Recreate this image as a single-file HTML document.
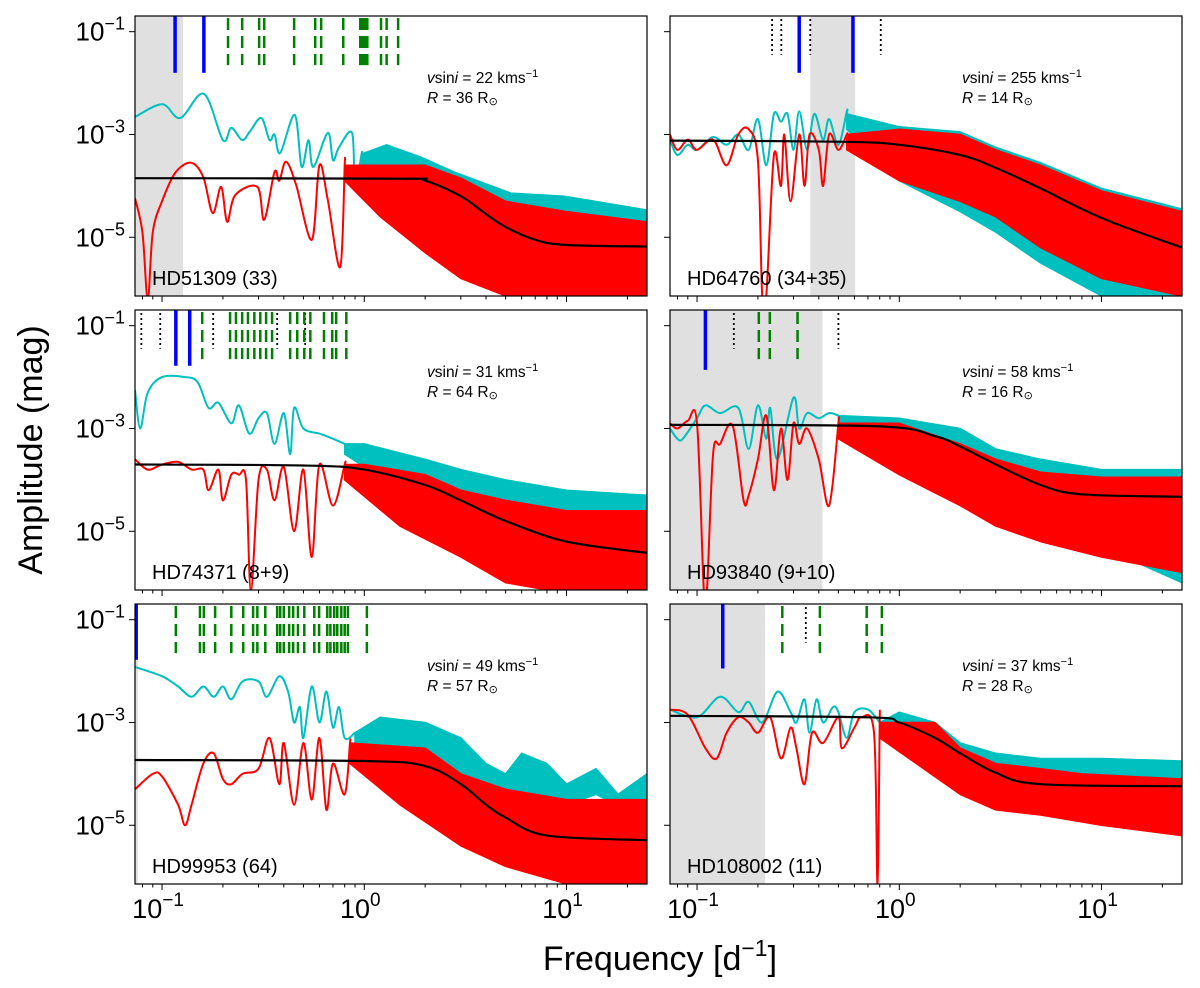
<!DOCTYPE html>
<html><head><meta charset="utf-8"><style>
html,body{margin:0;padding:0;background:#fff;}
svg{display:block;font-family:"Liberation Sans","DejaVu Sans",sans-serif;}
</style></head><body>
<svg id="chart" width="1200" height="988" viewBox="0 0 1200 988" xmlns="http://www.w3.org/2000/svg"></svg>
<script>
// ---------- data (frequency in d^-1, log10 amplitude in mag) ----------
const starNames = ["HD51309 (33)","HD64760 (34+35)","HD74371 (8+9)","HD93840 (9+10)","HD99953 (64)","HD108002 (11)"];
const vsiniValues = [22,255,31,58,49,37];
const radiusValues = [36,14,64,16,57,28];
const greySpans = [[0.0735,0.127],[0.363,0.605],null,[0.0735,0.417],[0.0735,0.076],[0.0735,0.217]];
const blueFreqs = [[0.116,0.161],[0.32,0.59],[0.117,0.137],[0.11],[0.0745],[0.134]];
const greenFreqs = [
 [0.212,0.249,0.302,0.32,0.45,0.572,0.612,0.787,0.955,0.975,0.995,1.015,1.035,1.21,1.29,1.47],
 [],
 [0.158,0.217,0.232,0.249,0.266,0.286,0.306,0.327,0.35,0.43,0.466,0.505,0.541,0.632,0.694,0.726,0.815],
 [0.202,0.229,0.314],
 [0.117,0.154,0.161,0.183,0.22,0.252,0.282,0.296,0.324,0.371,0.384,0.4,0.425,0.445,0.47,0.505,0.566,0.598,0.656,0.68,0.71,0.735,0.77,0.8,0.83,1.03],
 [0.264,0.405,0.69,0.82]];
const dottedFreqs = [[],[0.235,0.261,0.363,0.81],[0.079,0.098,0.179,0.371,0.51],[0.152,0.5],[],[0.345]];
const blueTops = [-1.8,-1.8,-1.78,-1.86,-1.78,-1.95];

const cyanLow = [
 [[0.0735,-2.66],[0.1,-2.41],[0.123,-2.68],[0.161,-2.21],[0.2,-3.11],[0.22,-2.87],[0.249,-3.11],[0.273,-2.93],[0.31,-2.68],[0.34,-3.11],[0.36,-3.0],[0.384,-3.36],[0.453,-2.62],[0.49,-3.63],[0.53,-3.11],[0.56,-3.63],[0.66,-2.97],[0.7,-3.5],[0.75,-3.25],[0.87,-2.97],[0.9,-3.96],[0.97,-3.38]],
 [[0.0735,-3.1],[0.08,-3.4],[0.09,-3.2],[0.1,-3.3],[0.12,-3.05],[0.14,-3.2],[0.16,-3.0],[0.18,-3.3],[0.2,-2.7],[0.22,-3.6],[0.24,-2.6],[0.26,-2.75],[0.28,-2.6],[0.3,-3.3],[0.32,-2.55],[0.35,-3.3],[0.38,-2.6],[0.42,-3.1],[0.45,-2.7],[0.5,-3.2],[0.55,-2.55]],
 [[0.0735,-2.25],[0.078,-3.0],[0.085,-2.3],[0.1,-2.0],[0.13,-2.0],[0.15,-2.1],[0.17,-2.6],[0.19,-2.5],[0.22,-2.9],[0.24,-2.55],[0.27,-3.1],[0.3,-2.8],[0.33,-2.7],[0.36,-3.3],[0.4,-2.7],[0.43,-3.5],[0.45,-2.6],[0.5,-3.0],[0.6,-3.1],[0.7,-3.2],[0.8,-3.3]],
 [[0.0735,-3.0],[0.08,-3.2],[0.085,-3.2],[0.1,-2.8],[0.11,-2.55],[0.13,-2.7],[0.16,-2.6],[0.18,-3.4],[0.2,-2.55],[0.22,-3.2],[0.23,-2.6],[0.25,-3.6],[0.3,-2.4],[0.32,-3.0],[0.35,-2.7],[0.4,-2.8],[0.45,-2.7],[0.5,-2.75]],
 [[0.0735,-1.92],[0.1,-2.1],[0.12,-2.3],[0.14,-2.5],[0.16,-2.3],[0.18,-2.5],[0.2,-2.3],[0.22,-2.55],[0.25,-2.2],[0.3,-2.2],[0.33,-2.5],[0.38,-2.1],[0.42,-2.4],[0.45,-3.0],[0.48,-2.7],[0.5,-3.3],[0.55,-2.3],[0.6,-3.0],[0.65,-2.4],[0.7,-3.1],[0.75,-2.7],[0.8,-3.3],[0.9,-3.2]],
 [[0.0735,-2.75],[0.1,-2.9],[0.13,-2.5],[0.16,-2.8],[0.18,-2.6],[0.21,-3.0],[0.25,-2.4],[0.29,-2.8],[0.31,-3.0],[0.34,-2.55],[0.36,-3.2],[0.39,-2.55],[0.42,-3.0],[0.47,-2.7],[0.5,-2.8],[0.55,-3.3],[0.6,-2.8],[0.7,-2.75],[0.8,-3.0]]];
const cyanUpper = [
 [[0.97,-3.38],[1.29,-3.2],[1.9,-3.44],[2.86,-3.75],[5.3,-4.14],[9.8,-4.2],[25,-4.47]],
 [[0.55,-2.6],[1,-2.85],[2,-2.95],[3,-3.25],[5,-3.55],[10,-4.05],[25,-4.45]],
 [[0.8,-3.3],[1,-3.3],[2,-3.6],[3,-3.8],[5,-4.0],[10,-4.2],[25,-4.3]],
 [[0.5,-2.75],[1,-2.8],[2,-3.0],[3,-3.4],[5,-3.6],[10,-3.8],[25,-3.8]],
 [[0.9,-3.2],[1.2,-2.9],[2,-3.0],[3,-3.3],[4,-3.8],[5,-4.0],[6,-3.6],[8,-3.8],[10,-4.2],[14,-3.9],[18,-4.4],[25,-4.0]],
 [[0.8,-3.0],[1,-2.8],[1.5,-3.0],[2,-3.4],[3,-3.6],[5,-3.7],[10,-3.7],[25,-3.75]]];
const cyanLower = [
 [[0.97,-3.6],[1.5,-4.3],[2,-5.0],[3,-5.5],[5,-6.0],[10,-6.14],[25,-6.14]],
 [[0.55,-2.9],[1,-3.9],[2,-4.5],[3,-4.9],[5,-5.5],[10,-6.14],[25,-6.14]],
 [[0.8,-3.5],[2,-4.5],[5,-4.7],[25,-4.7]],
 [[0.5,-3.0],[1,-3.7],[2,-4.2],[3,-4.5],[5,-5.0],[10,-5.3],[25,-6.0]],
 [[0.9,-3.4],[2,-3.8],[3,-4.3],[5,-4.5],[7,-4.4],[10,-4.6],[14,-4.4],[20,-4.7],[25,-4.9]],
 [[0.8,-3.2],[2,-4.3],[3,-4.5],[5,-4.6],[10,-4.8],[25,-5.0]]];
const redLow = [
 [[0.0735,-4.24],[0.08,-4.9],[0.085,-6.2],[0.09,-4.9],[0.1,-4.3],[0.116,-3.75],[0.139,-3.55],[0.16,-3.83],[0.178,-4.53],[0.196,-4.02],[0.21,-4.7],[0.23,-4.18],[0.296,-4.02],[0.32,-4.66],[0.36,-3.73],[0.38,-3.9],[0.41,-3.53],[0.46,-3.98],[0.55,-5.05],[0.6,-3.6],[0.66,-4.27],[0.76,-5.58],[0.8,-3.6]],
 [[0.0735,-3.0],[0.08,-3.3],[0.09,-3.1],[0.1,-3.3],[0.12,-3.1],[0.14,-3.6],[0.16,-3.0],[0.18,-2.9],[0.2,-3.5],[0.21,-6.14],[0.22,-6.14],[0.24,-3.4],[0.26,-4.0],[0.27,-3.0],[0.29,-4.3],[0.32,-3.0],[0.34,-4.0],[0.36,-3.0],[0.4,-3.3],[0.42,-4.0],[0.45,-3.0],[0.5,-3.3],[0.55,-3.0]],
 [[0.0735,-3.6],[0.085,-3.8],[0.1,-3.7],[0.12,-3.65],[0.14,-3.8],[0.16,-3.8],[0.17,-4.2],[0.19,-3.8],[0.2,-4.4],[0.22,-3.9],[0.24,-3.9],[0.26,-4.0],[0.275,-6.14],[0.3,-4.0],[0.33,-3.8],[0.36,-4.4],[0.4,-3.75],[0.45,-5.0],[0.5,-3.8],[0.55,-5.5],[0.6,-3.7],[0.7,-4.5],[0.8,-3.7]],
 [[0.0735,-2.9],[0.08,-3.0],[0.09,-2.85],[0.1,-2.9],[0.108,-6.14],[0.112,-6.14],[0.12,-3.5],[0.13,-3.3],[0.15,-2.95],[0.17,-4.4],[0.18,-4.3],[0.2,-3.6],[0.22,-2.75],[0.24,-4.2],[0.26,-3.0],[0.28,-4.0],[0.3,-2.9],[0.32,-3.3],[0.35,-3.0],[0.4,-3.6],[0.45,-4.5],[0.5,-2.9]],
 [[0.0735,-4.3],[0.09,-4.0],[0.1,-4.05],[0.12,-4.6],[0.13,-5.0],[0.14,-4.6],[0.16,-3.8],[0.18,-3.6],[0.2,-4.1],[0.22,-4.2],[0.25,-4.0],[0.3,-3.9],[0.34,-3.3],[0.38,-4.2],[0.4,-3.4],[0.45,-4.6],[0.5,-3.4],[0.55,-4.5],[0.6,-3.3],[0.65,-4.7],[0.7,-3.8],[0.8,-4.4],[0.85,-3.4]],
 [[0.0735,-2.75],[0.09,-2.85],[0.11,-3.5],[0.125,-3.7],[0.14,-3.2],[0.16,-2.9],[0.18,-3.0],[0.2,-3.2],[0.23,-2.9],[0.26,-3.7],[0.29,-3.1],[0.31,-3.5],[0.34,-4.2],[0.37,-3.2],[0.42,-3.4],[0.5,-2.9],[0.52,-3.5],[0.6,-3.1],[0.65,-2.9],[0.75,-3.2],[0.78,-6.14],[0.8,-3.0]]];
const redUpper = [
 [[0.8,-3.6],[1.3,-3.6],[2,-3.6],[3,-3.85],[5,-4.3],[10,-4.5],[25,-4.7]],
 [[0.55,-3.0],[1,-2.9],[2,-3.0],[3,-3.3],[5,-3.6],[10,-4.1],[25,-4.5]],
 [[0.8,-3.7],[1,-3.7],[2,-3.9],[3,-4.2],[5,-4.4],[10,-4.6],[25,-4.6]],
 [[0.5,-2.9],[1,-2.9],[2,-3.3],[3,-3.6],[5,-3.85],[10,-3.95],[25,-3.95]],
 [[0.85,-3.4],[2,-3.5],[3,-4.0],[5,-4.3],[10,-4.5],[25,-4.5]],
 [[0.8,-3.0],[1.5,-3.0],[2,-3.5],[3,-3.8],[5,-3.9],[8,-4.0],[25,-4.1]]];
const redLower = [
 [[0.8,-3.9],[1.2,-4.6],[2,-5.3],[3,-5.8],[5,-6.14],[25,-6.14]],
 [[0.55,-3.3],[1,-3.9],[2,-4.3],[3,-4.6],[5,-5.2],[10,-5.8],[25,-6.14]],
 [[0.8,-4.0],[1.5,-4.9],[3,-5.5],[5,-6.0],[8,-6.14],[25,-6.14]],
 [[0.5,-3.2],[1,-3.9],[2,-4.5],[3,-4.9],[5,-5.2],[10,-5.5],[25,-5.8]],
 [[0.85,-3.8],[1.5,-4.6],[3,-5.4],[5,-5.8],[10,-6.14],[25,-6.14]],
 [[0.8,-3.3],[2,-4.4],[3,-4.7],[5,-4.8],[10,-5.0],[25,-5.2]]];
const fitPoints = [
 [[0.0735,-3.85],[1.5,-3.86],[2,-3.9],[3,-4.2],[4,-4.55],[5,-4.8],[7,-5.05],[10,-5.15],[25,-5.18]],
 [[0.0735,-3.12],[0.5,-3.14],[1,-3.2],[2,-3.4],[3,-3.65],[5,-4.05],[8,-4.45],[12,-4.75],[25,-5.2]],
 [[0.0735,-3.7],[0.5,-3.72],[1,-3.8],[2,-4.1],[3,-4.4],[5,-4.8],[10,-5.2],[25,-5.42]],
 [[0.0735,-2.93],[0.8,-2.96],[1.5,-3.15],[2,-3.35],[3,-3.7],[5,-4.1],[8,-4.28],[25,-4.33]],
 [[0.0735,-3.73],[1,-3.75],[2,-3.85],[3,-4.2],[4,-4.6],[5,-4.85],[8,-5.2],[25,-5.29]],
 [[0.0735,-2.87],[0.7,-2.9],[1,-3.0],[1.5,-3.3],[2,-3.6],[3,-3.98],[5,-4.2],[25,-4.24]]];
const yTickExps = [-1,-3,-5];
const xTickExps = [-1,0,1];

// ---------- layout ----------
const NS = "http://www.w3.org/2000/svg";
const svg = document.getElementById("chart");
const colX = [[135,647],[670,1182]];
const rowTop = [16,310,604];
const PH = 280;
const LMIN = Math.log10(0.0735), LMAX = Math.log10(25);
const YTOP = -0.695, PXDEC = 51.4;
function mk(tag, attrs, parent){const e=document.createElementNS(NS,tag);for(const k in attrs)e.setAttribute(k,attrs[k]);(parent||svg).appendChild(e);return e;}

starNames.forEach((name, i) => {
  const col = i % 2, row = Math.floor(i / 2);
  const x0 = colX[col][0], x1 = colX[col][1], top = rowTop[row], bot = top + PH;
  const fx = f => x0 + (Math.log10(f) - LMIN) / (LMAX - LMIN) * (x1 - x0);
  const ly = a => top + (YTOP - a) * PXDEC;
  const path = pts => pts.map((p, k) => (k ? "L" : "M") + fx(p[0]).toFixed(1) + "," + ly(p[1]).toFixed(1)).join("");
  const smooth = pts => {
    const P = pts.map(p => [fx(p[0]), ly(p[1])]);
    let d = "M" + P[0][0].toFixed(1) + "," + P[0][1].toFixed(1);
    for (let k = 0; k < P.length - 1; k++) {
      const a = P[Math.max(k - 1, 0)], b = P[k], c = P[k + 1], e = P[Math.min(k + 2, P.length - 1)];
      const c1 = [b[0] + (c[0] - a[0]) / 6, b[1] + (c[1] - a[1]) / 6];
      const c2 = [c[0] - (e[0] - b[0]) / 6, c[1] - (e[1] - b[1]) / 6];
      d += "C" + c1[0].toFixed(1) + "," + c1[1].toFixed(1) + " " + c2[0].toFixed(1) + "," + c2[1].toFixed(1) + " " + c[0].toFixed(1) + "," + c[1].toFixed(1);
    }
    return d;
  };
  const g = mk("g", {});
  
  
  const cp = mk("clipPath", {id: "clip" + i}, g);
  mk("rect", {x: x0, y: top, width: x1 - x0, height: PH}, cp);
  const inner = mk("g", {"clip-path": "url(#clip" + i + ")"}, g);
  if (greySpans[i]) {
    const s = mk("rect", {x: fx(greySpans[i][0]), y: top, width: fx(greySpans[i][1]) - fx(greySpans[i][0]), height: PH, fill: "#e0e0e0"}, inner);
    
    
  }
  dottedFreqs[i].forEach(f => {
    const l = mk("line", {x1: fx(f), x2: fx(f), y1: top + 3, y2: ly(-1.45), stroke: "#000", "stroke-width": 1.8, "stroke-dasharray": "2,3"}, inner);
    
    
  });
  greenFreqs[i].forEach(f => {
    const l = mk("line", {x1: fx(f), x2: fx(f), y1: top + 2, y2: ly(-1.65), stroke: "#008000", "stroke-width": 2.5, "stroke-dasharray": "12,6"}, inner);
    
    
  });
  blueFreqs[i].forEach(f => {
    const l = mk("line", {x1: fx(f), x2: fx(f), y1: top, y2: ly(blueTops[i]), stroke: "#0000ff", "stroke-width": 3.5}, inner);
    
    
  });
  const cb = mk("path", {d: path(cyanUpper[i]) + path(cyanLower[i].slice().reverse()).replace("M", "L") + "Z", fill: "#00bfbf", stroke: "#00bfbf", "stroke-width": 1.5, "stroke-linejoin": "round"}, inner);
  
  
  const cl = mk("path", {d: smooth(cyanLow[i].concat([cyanUpper[i][0]])), fill: "none", stroke: "#00bfbf", "stroke-width": 2}, inner);
  
  
  const rb = mk("path", {d: path(redUpper[i]) + path(redLower[i].slice().reverse()).replace("M", "L") + "Z", fill: "#ff0000", stroke: "#ff0000", "stroke-width": 1.5, "stroke-linejoin": "round"}, inner);
  
  
  const rl = mk("path", {d: smooth(redLow[i].concat([redUpper[i][0]])), fill: "none", stroke: "#ff0000", "stroke-width": 2}, inner);
  
  
  const fl = mk("path", {d: smooth(fitPoints[i]), fill: "none", stroke: "#000", "stroke-width": 2.2, "stroke-linejoin": "round"}, inner);
  
  
  const fr = mk("rect", {x: x0, y: top, width: x1 - x0, height: PH, fill: "none", stroke: "#000", "stroke-width": 1.2}, g);
  
  
  for (let e = -2; e <= 1; e++) for (let m = 1; m <= 9; m++) {
    const f = m * Math.pow(10, e);
    if (f < 0.0735 || f > 25) continue;
    const len = m === 1 ? 6 : 3.5;
    const t = mk("line", {x1: fx(f), x2: fx(f), y1: bot, y2: bot + len, stroke: "#000", "stroke-width": 1}, g);
    
    
  }
  if (row === 2) xTickExps.forEach(e => {
    const t = mk("text", {x: fx(Math.pow(10, e)) - 4, y: bot + 34, "font-size": 27, "text-anchor": "middle"}, g);
    t.innerHTML = '10<tspan dy="-12" font-size="19">' + (e < 0 ? "\u2212" + (-e) : e) + '</tspan>';
    
    
  });
  yTickExps.forEach(e => {
    const t = mk("line", {x1: x0 - 6, x2: x0, y1: ly(e), y2: ly(e), stroke: "#000", "stroke-width": 1}, g);
    
    
    if (col === 0) {
      const tl = mk("text", {x: x0 - 10, y: ly(e) + 9, "font-size": 26, "text-anchor": "end"}, g);
      tl.innerHTML = '10<tspan dy="-11" font-size="18">\u2212' + (-e) + '</tspan>';
      
      
    }
  });
  const nm = mk("text", {x: x0 + 17, y: bot - 11, "font-size": 20}, g);
  nm.textContent = name;
  
  
  const v = mk("text", {x: x0 + 292, y: top + 67, "font-size": 15.5}, g);
  v.innerHTML = '<tspan font-style="italic">v</tspan>sin<tspan font-style="italic">i</tspan> = ' + vsiniValues[i] + ' kms<tspan dy="-6" font-size="11">\u22121</tspan>';
  
  
  const r = mk("text", {x: x0 + 292, y: top + 87, "font-size": 15.5}, g);
  r.innerHTML = '<tspan font-style="italic">R</tspan> = ' + radiusValues[i] + ' R<tspan font-size="11" dy="2">\u2299</tspan>';
  
  
});

const yl = mk("text", {x: 42, y: 450, "font-size": 34, "text-anchor": "middle", transform: "rotate(-90 42 450)"});
yl.textContent = "Amplitude (mag)";


const xl = mk("text", {x: 660, y: 970, "font-size": 34, "text-anchor": "middle"});
xl.innerHTML = 'Frequency [d<tspan dy="-14" font-size="23">\u22121</tspan><tspan dy="14">]</tspan>';


</script>
</body></html>
